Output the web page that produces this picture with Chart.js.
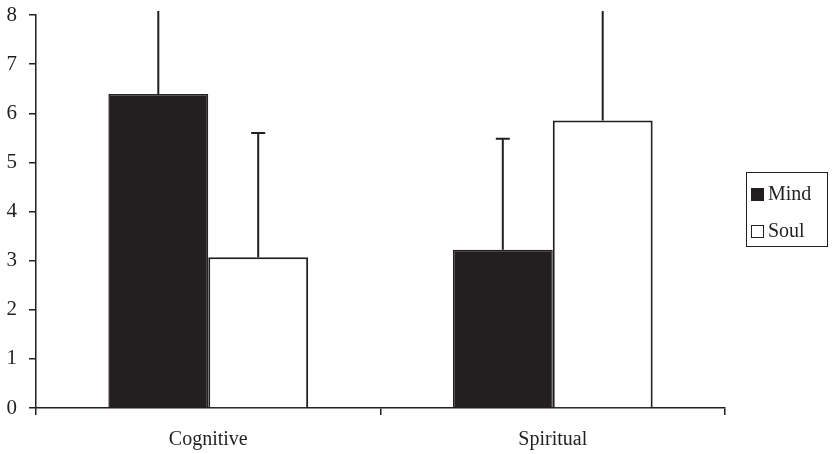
<!DOCTYPE html>
<html>
<head>
<meta charset="utf-8">
<script src="https://cdn.jsdelivr.net/npm/chart.js@4.4.1/dist/chart.umd.min.js"></script>
<style>
  html, body { margin: 0; padding: 0; background: #fff; }
  #wrap { position: relative; width: 834px; height: 454px; }
  #legend {
    position: absolute; left: 746px; top: 172px; width: 82px; height: 75px;
    border: 1px solid #231f20; box-sizing: border-box;
    font-family: "Liberation Serif", "DejaVu Serif", serif; font-size: 20px; color: #231f20;
  }
  #legend div { position: absolute; left: 4px; height: 20px; line-height: 20px; }
  #legend span.box { display: inline-block; width: 13px; height: 13px; box-sizing: border-box;
    border: 1.5px solid #231f20; margin-right: 4px; vertical-align: -1px; }
</style>
</head>
<body>
<div id="wrap">
  <canvas id="chart" width="834" height="454"></canvas>
  <div id="legend">
    <div style="top:10px"><span class="box" style="background:#231f20"></span>Mind</div>
    <div style="top:47px"><span class="box" style="background:#fff"></span>Soul</div>
  </div>
</div>
<script>
var categories = ['Cognitive', 'Spiritual'];
var mindValues = [6.39, 3.22];
var soulValues = [3.07, 5.85];
// upper error bar ends (values above 8 run off the top of the plot)
var mindErrTop = [10, 5.48];
var soulErrTop = [5.6, 10];
var yTicks = [0, 1, 2, 3, 4, 5, 6, 7, 8];

var ink = '#231f20';

var errorBars = {
    id: 'errorBars',
    afterDatasetsDraw: function (chart) {
        var ctx = chart.ctx, y = chart.scales.y, area = chart.chartArea;
        var tops = [mindErrTop, soulErrTop];
        ctx.save();
        ctx.beginPath();
        ctx.rect(area.left, area.top - 4, area.right - area.left, area.bottom - area.top + 4);
        ctx.clip();
        ctx.strokeStyle = ink;
        ctx.lineWidth = 2;
        chart.data.datasets.forEach(function (ds, i) {
            chart.getDatasetMeta(i).data.forEach(function (bar, j) {
                var yTop = y.getPixelForValue(tops[i][j]);
                ctx.beginPath();
                ctx.moveTo(bar.x, bar.y);
                ctx.lineTo(bar.x, yTop);
                ctx.moveTo(bar.x - 7, yTop);
                ctx.lineTo(bar.x + 7, yTop);
                ctx.stroke();
            });
        });
        ctx.restore();
    }
};

new Chart(document.getElementById('chart'), {
    type: 'bar',
    plugins: [errorBars],
    data: {
        labels: categories,
        datasets: [
            { label: 'Mind', data: mindValues, backgroundColor: ink, borderColor: ink, borderWidth: 1.5 },
            { label: 'Soul', data: soulValues, backgroundColor: '#ffffff', borderColor: ink, borderWidth: 2 }
        ]
    },
    options: {
        responsive: false,
        animation: false,
        layout: { padding: { top: 15, right: 109, left: 0, bottom: 0 } },
        datasets: { bar: { categoryPercentage: 0.58, barPercentage: 1 } },
        plugins: { legend: { display: false }, tooltip: { enabled: false } },
        scales: {
            x: {
                afterFit: function (s) { s.height = 46; },
                border: { color: ink, width: 1.5 },
                grid: { drawOnChartArea: false, tickLength: 7, color: ink, lineWidth: 1.5 },
                ticks: { color: ink, padding: 13, font: { family: 'Liberation Serif', size: 20 } }
            },
            y: {
                min: 0, max: 8,
                afterFit: function (s) { s.width = 36; s.paddingTop = 0; s.paddingBottom = 0; },
                afterBuildTicks: function (s) { s.ticks = yTicks.map(function (v) { return { value: v }; }); },
                border: { color: ink, width: 1.5 },
                grid: { drawOnChartArea: false, tickLength: 7, color: ink, lineWidth: 1.5 },
                ticks: { color: ink, padding: 12, font: { family: 'Liberation Serif', size: 21, lineHeight: 0.6 } }
            }
        }
    }
});
</script>
</body>
</html>
